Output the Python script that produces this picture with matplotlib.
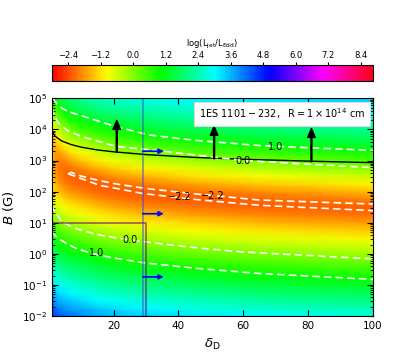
import numpy as np
import matplotlib
matplotlib.use("Agg")
import matplotlib.pyplot as plt
from matplotlib.ticker import LogLocator

# grid of log(L_jet/L_Edd): rows = log10 B, columns = delta_D
delta_nodes = [1, 2, 3, 5, 7, 10, 15, 20, 30, 45, 65, 100]
logb_nodes = [-2.0, -1.75, -1.5, -1.25, -1.0, -0.75, -0.5, -0.25, 0.0, 0.25, 0.5, 0.75,
              1.0, 1.25, 1.5, 1.75, 2.0, 2.25, 2.5, 2.75, 3.0, 3.25, 3.5, 3.75,
              4.0, 4.25, 4.5, 4.75, 5.0]
ljet = [
    [4.73, 4.51, 4.38, 4.21, 4.10, 3.97, 3.76, 3.61, 3.40, 3.19, 2.99, 2.76],
    [4.39, 4.17, 4.03, 3.86, 3.75, 3.62, 3.41, 3.26, 3.04, 2.83, 2.63, 2.40],
    [4.05, 3.82, 3.68, 3.51, 3.40, 3.26, 3.05, 2.90, 2.68, 2.47, 2.27, 2.04],
    [3.70, 3.47, 3.33, 3.16, 3.04, 2.91, 2.69, 2.54, 2.32, 2.10, 1.90, 1.67],
    [3.35, 3.11, 2.98, 2.80, 2.69, 2.55, 2.33, 2.18, 1.96, 1.74, 1.53, 1.30],
    [2.99, 2.76, 2.62, 2.44, 2.32, 2.18, 1.96, 1.81, 1.59, 1.36, 1.16, 0.92],
    [2.64, 2.40, 2.25, 2.08, 1.96, 1.82, 1.59, 1.44, 1.21, 0.99, 0.78, 0.54],
    [2.27, 2.03, 1.89, 1.71, 1.59, 1.45, 1.22, 1.06, 0.84, 0.61, 0.40, 0.15],
    [1.91, 1.66, 1.52, 1.33, 1.21, 1.07, 0.84, 0.68, 0.45, 0.22, 0.01, -0.23],
    [1.54, 1.29, 1.14, 0.96, 0.84, 0.69, 0.46, 0.30, 0.07, -0.16, -0.37, -0.62],
    [1.16, 0.91, 0.76, 0.58, 0.46, 0.31, 0.08, -0.09, -0.32, -0.55, -0.76, -1.01],
    [0.78, 0.53, 0.38, 0.20, 0.07, -0.08, -0.31, -0.47, -0.71, -0.94, -1.15, -1.39],
    [0.41, 0.15, 0.00, -0.19, -0.32, -0.46, -0.70, -0.86, -1.09, -1.32, -1.53, -1.77],
    [0.03, -0.23, -0.38, -0.58, -0.70, -0.85, -1.08, -1.25, -1.48, -1.71, -1.91, -2.11],
    [-0.34, -0.61, -0.76, -0.96, -1.08, -1.23, -1.46, -1.63, -1.85, -2.06, -2.20, -2.23],
    [-0.69, -0.97, -1.13, -1.32, -1.45, -1.60, -1.83, -1.99, -2.17, -2.27, -2.21, -1.97],
    [-0.99, -1.29, -1.46, -1.67, -1.80, -1.95, -2.15, -2.25, -2.26, -2.10, -1.86, -1.51],
    [-1.22, -1.55, -1.74, -1.96, -2.09, -2.20, -2.27, -2.20, -1.98, -1.68, -1.38, -1.02],
    [-1.36, -1.73, -1.93, -2.15, -2.22, -2.20, -2.03, -1.84, -1.53, -1.19, -0.88, -0.52],
    [-1.44, -1.82, -2.02, -2.14, -2.07, -1.89, -1.60, -1.37, -1.03, -0.69, -0.38, -0.02],
    [-1.47, -1.84, -1.97, -1.89, -1.70, -1.44, -1.11, -0.87, -0.53, -0.19, 0.12, 0.47],
    [-1.47, -1.77, -1.76, -1.49, -1.24, -0.95, -0.62, -0.38, -0.03, 0.30, 0.60, 0.93],
    [-1.44, -1.56, -1.39, -1.03, -0.76, -0.46, -0.12, 0.12, 0.45, 0.77, 1.05, 1.37],
    [-1.35, -1.22, -0.95, -0.54, -0.26, 0.04, 0.37, 0.60, 0.92, 1.22, 1.49, 1.78],
    [-1.15, -0.78, -0.47, -0.04, 0.24, 0.53, 0.84, 1.06, 1.36, 1.64, 1.89, 2.17],
    [-0.80, -0.31, 0.03, 0.45, 0.71, 0.99, 1.29, 1.49, 1.77, 2.04, 2.27, 2.54],
    [-0.37, 0.19, 0.51, 0.91, 1.16, 1.42, 1.70, 1.90, 2.16, 2.41, 2.63, 2.87],
    [0.11, 0.66, 0.97, 1.35, 1.59, 1.83, 2.10, 2.28, 2.53, 2.76, 2.96, 3.19],
    [0.59, 1.11, 1.41, 1.76, 1.99, 2.22, 2.47, 2.64, 2.87, 3.08, 3.27, 3.48],
]

# solid black line
black_delta = [1, 2, 4, 7, 10, 15, 20, 30, 45, 60, 80, 100]
black_logb = [3.93, 3.78, 3.63, 3.51, 3.43, 3.34, 3.28, 3.19, 3.10, 3.04, 2.98, 2.93]

# dashed contour lines (log10 B along delta_D)
c1_hi_delta = [1.3, 3, 6, 10.7, 21, 31, 45, 65, 100]
c1_hi_logb = [5.0, 4.75, 4.57, 4.42, 4.08, 3.82, 3.65, 3.48, 3.32]
c0_hi_delta = [1.0, 1.4, 3, 6, 10.7, 21, 29, 35, 45, 60, 80, 100]
c0_hi_logb = [4.7, 4.52, 4.2, 3.95, 3.75, 3.45, 3.37, 3.3, 3.18, 3.0, 2.88, 2.77]
cm22_up_delta = [6.0, 7, 10, 15, 20, 30, 45, 65, 100]
cm22_up_logb = [2.57, 2.62, 2.5, 2.37, 2.26, 2.1, 1.93, 1.73, 1.6]
cm22_lo_delta = [6.0, 7.5, 10, 15.8, 20, 29, 45, 65, 100]
cm22_lo_logb = [2.57, 2.52, 2.42, 2.2, 2.12, 1.94, 1.75, 1.56, 1.39]
c0_lo_delta = [1.0, 1.4, 2.4, 4, 7, 10.6, 17, 25, 35, 45, 60, 80, 100]
c0_lo_logb = [1.6, 1.45, 1.28, 1.05, 0.87, 0.74, 0.58, 0.45, 0.32, 0.2, 0.06, -0.05, -0.16]
c1_lo_delta = [1.0, 1.4, 3, 5.5, 8.6, 13.7, 20, 29, 45, 65, 100]
c1_lo_logb = [0.72, 0.64, 0.5, 0.33, 0.17, 0.0, -0.13, -0.28, -0.46, -0.63, -0.82]

label_text = ["1.0", "0.0", "\u22122.2", "\u22122.2", "0.0", "1.0"]
label_delta = [70, 60, 40.5, 50.7, 25, 14.8]
label_logb = [3.42, 3.0, 1.82, 1.87, 0.45, 0.02]

# upward arrows starting on the black line
up_delta = [21, 51, 81]
up_from_logb = [3.27, 3.06, 2.96]
up_to_logb = [4.29, 4.1, 4.03]

# delta_D limits and rightward arrows
delta_cut = 29
box_delta = 30
box_b = 10
right_from_delta = 29
right_to_delta = 35.5
right_logb = [3.3, 1.29, -0.74]

cbar_ticks = [-2.4, -1.2, 0.0, 1.2, 2.4, 3.6, 4.8, 6.0, 7.2, 8.4]

fig = plt.figure(figsize=(4.15, 3.56), dpi=100)
ax = fig.add_axes([0.125, 0.112, 0.774, 0.612])
cax = fig.add_axes([0.125, 0.773, 0.774, 0.045])

mesh = ax.pcolormesh(np.array(delta_nodes, float), 10 ** np.array(logb_nodes),
                     np.array(ljet), shading="gouraud", cmap="hsv",
                     vmin=-3, vmax=8.85, rasterized=True)

ax.plot(black_delta, 10 ** np.array(black_logb), color="k", lw=1.0)

dash = dict(color="white", lw=1.2, ls=(0, (4.5, 2.5)))
for xs, ys in [(c1_hi_delta, c1_hi_logb), (c0_hi_delta, c0_hi_logb),
               (cm22_up_delta, cm22_up_logb), (cm22_lo_delta, cm22_lo_logb),
               (c0_lo_delta, c0_lo_logb), (c1_lo_delta, c1_lo_logb)]:
    ax.plot(xs, 10 ** np.array(ys), **dash)

for t, x, y in zip(label_text, label_delta, label_logb):
    ax.text(x, 10 ** y, t, fontsize=7, ha="center", va="center", color="k")

for x, y0, y1 in zip(up_delta, up_from_logb, up_to_logb):
    ax.annotate("", xy=(x, 10 ** y1), xytext=(x, 10 ** y0),
                arrowprops=dict(facecolor="k", edgecolor="k", width=0.7,
                                headwidth=5.5, headlength=6.5, shrink=0))

ax.axvline(delta_cut, color="#3f51c8", alpha=0.6, lw=1.2)
ax.plot([1, box_delta, box_delta], [box_b, box_b, 1e-2], color="purple", alpha=0.6, lw=1.3)

for y in right_logb:
    ax.annotate("", xy=(right_to_delta, 10 ** y), xytext=(right_from_delta, 10 ** y),
                arrowprops=dict(arrowstyle="-|>", color="b", lw=1.2, mutation_scale=7,
                                shrinkA=0, shrinkB=0))

ax.text(72, 10 ** 4.5, r"$\mathrm{1ES\ 1101-232,\ \ R=1\times10^{14}\ cm}$",
        fontsize=7, ha="center", va="center",
        bbox=dict(boxstyle="square,pad=0.5", fc="white", ec="0.85", lw=0.8))

ax.set_yscale("log")
ax.set_xlim(1, 100)
ax.set_ylim(1e-2, 1e5)
ax.set_xticks([20, 40, 60, 80, 100])
ax.yaxis.set_major_locator(LogLocator(base=10, numticks=20))
ax.yaxis.set_minor_locator(LogLocator(base=10, subs=np.arange(2, 10), numticks=20))
ax.tick_params(which="both", direction="in", top=True, right=True, labelsize=7.5)
ax.tick_params(which="major", length=4)
ax.tick_params(which="minor", length=2)
ax.set_xlabel(r"$\delta_{\rm D}$", fontsize=9.5)
ax.set_ylabel(r"$B$ (G)", fontsize=9.5)

cb = fig.colorbar(mesh, cax=cax, orientation="horizontal", ticks=cbar_ticks)
cb.ax.xaxis.set_ticks_position("top")
cb.ax.xaxis.set_label_position("top")
cb.ax.tick_params(labelsize=6, length=2.5, pad=1)
cb.set_label(r"log(L$_{\rm jet}$/L$_{\rm Edd}$)", fontsize=6, labelpad=3)
cb.outline.set_linewidth(0.8)

fig.savefig("out.png", dpi=100)
